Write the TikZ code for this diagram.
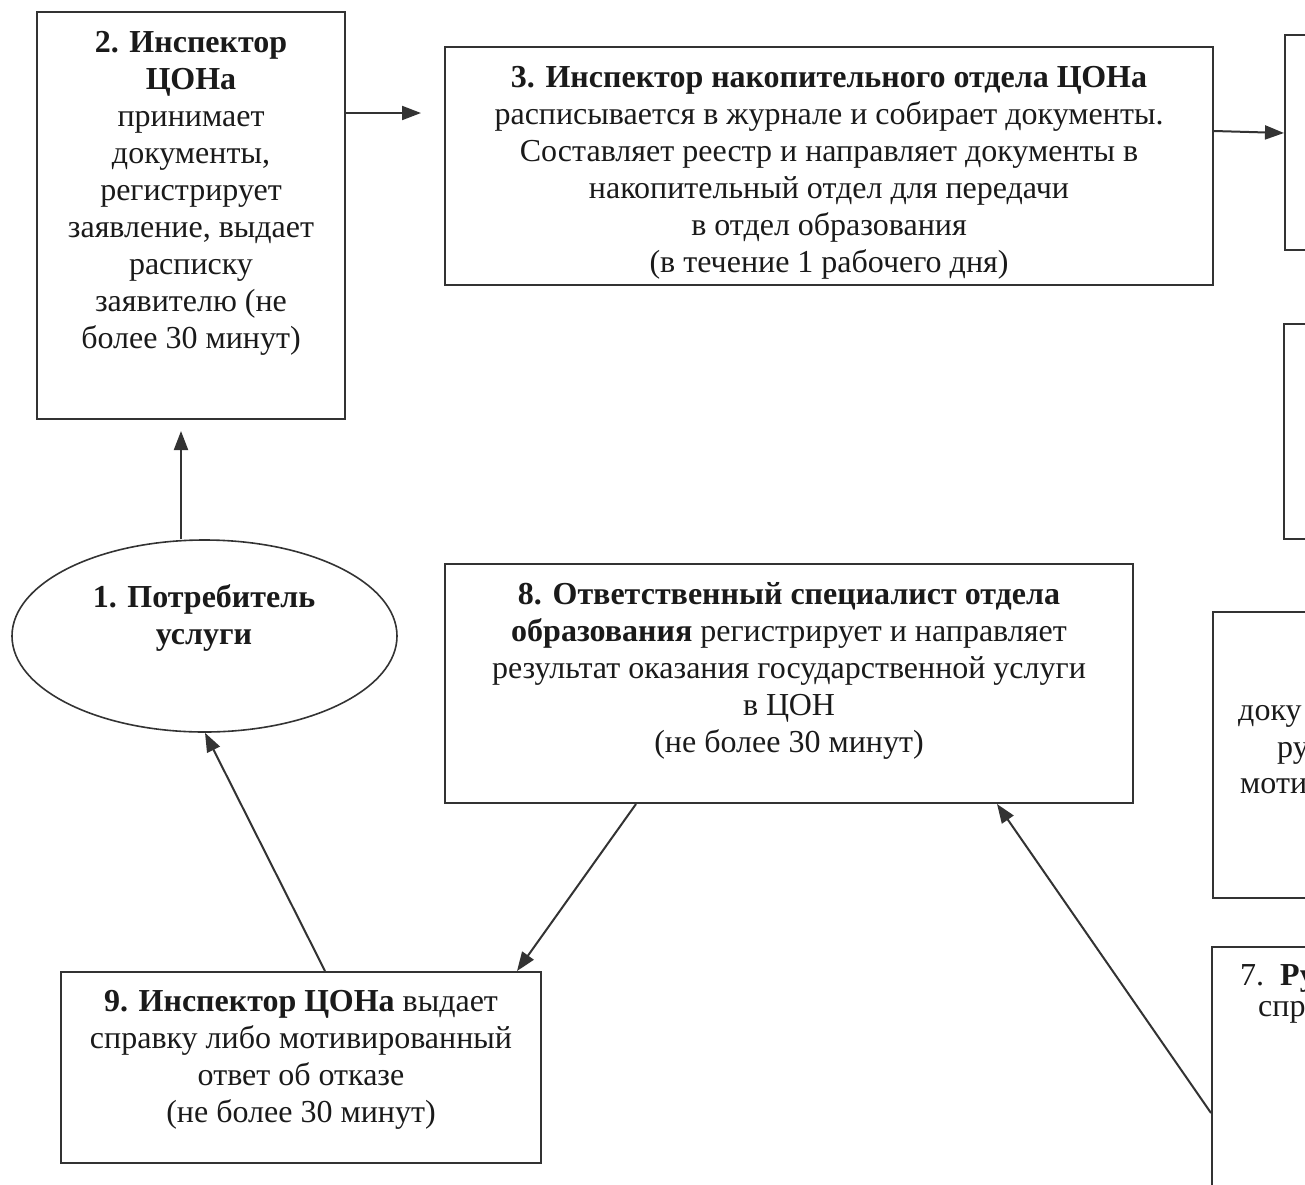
\documentclass[tikz,border=0pt]{standalone}
\usepackage{fontspec}
\setmainfont{Liberation Serif}
\usetikzlibrary{arrows.meta,shapes.geometric}
\definecolor{linec}{HTML}{333333}
\definecolor{textc}{HTML}{1A1A1A}
\tikzset{
  box/.style={draw=linec, line width=2pt, rectangle, inner sep=0pt},
  oval/.style={draw=linec, line width=1.6pt, ellipse, inner sep=0pt},
  txt/.style={align=center, font=\fontsize{32}{37}\selectfont, text=textc, inner sep=0pt, anchor=north},
  frag/.style={font=\fontsize{32}{37}\selectfont, text=textc, inner sep=0pt, anchor=north west},
  arr/.style={draw=linec, line width=2pt, -{Triangle[length=19pt,width=14pt]}}
}
\begin{document}
\begin{tikzpicture}[x=1pt,y=-1pt]
\useasboundingbox (0,0) rectangle (1305,1184);
\clip (0,0) rectangle (1305,1184);

% boxes
\node[box, minimum width=308pt, minimum height=407pt] (b2) at (191,215.5) {};
\node[box, minimum width=768pt, minimum height=238pt] (b3) at (829,166) {};
\node[box, minimum width=215pt, minimum height=215pt] (b4) at (1392.5,142.5) {};
\node[box, minimum width=216pt, minimum height=215pt] (b5) at (1392,431.5) {};
\node[box, minimum width=287pt, minimum height=286pt] (b6) at (1356.5,755) {};
\node[box, minimum width=288pt, minimum height=353pt] (b7) at (1356,1123.5) {};
\node[box, minimum width=688pt, minimum height=239pt] (b8) at (789,683.5) {};
\node[box, minimum width=480pt, minimum height=191pt] (b9) at (301,1067.5) {};
\node[oval, minimum width=385pt, minimum height=192pt] (e1) at (204.5,636) {};

% texts
\node[txt] (t2) at (191,31) {\textbf{2. Инспектор}\\ \textbf{ЦОНа}\\ принимает\\ документы,\\ регистрирует\\ заявление, выдает\\ расписку\\ заявителю (не\\ более 30 минут)};
\node[txt] (t3) at (829,66) {\textbf{3. Инспектор накопительного отдела ЦОНа}\\ расписывается в журнале и собирает документы.\\ Составляет реестр и направляет документы в\\ накопительный отдел для передачи\\ в отдел образования\\ (в течение 1 рабочего дня)};
\node[txt] (t8) at (789,582) {\textbf{8. Ответственный специалист отдела}\\ \textbf{образования} регистрирует и направляет\\ результат оказания государственной услуги\\ в ЦОН\\ (не более 30 минут)};
\node[txt] (t9) at (301,990) {\textbf{9. Инспектор ЦОНа} выдает\\ справку либо мотивированный\\ ответ об отказе\\ (не более 30 минут)};
\node[txt] (t1) at (204,584) {\textbf{1. Потребитель}\\ \textbf{услуги}};
\node[frag] (f6a) at (1238,705) {доку};
\node[frag] (f6b) at (1277,742) {ру};
\node[frag] (f6c) at (1240,778) {моти};
\node[frag] (f7a) at (1240,964) {7.~~\textbf{Ру}};
\node[frag] (f7b) at (1258,1001) {спр};

% connectors
\coordinate (a23) at (421,113);
\coordinate (a12) at (181,431);
\draw[arr] (b2.east |- a23) -- (a23);
\draw[arr] (b3.east |- 0,131) -- (b4.west |- 0,133);
\draw[arr] (a12 |- e1.north) -- (a12);
\draw[arr] (b8.south -| 636,0) -- (b9.north -| 517,0);
\draw[arr] (b9.north -| 325,0) -- (e1.south -| 205,0);
\draw[arr] (b7.west |- 0,1113) -- (b8.south -| 997,0);
\end{tikzpicture}
\end{document}
